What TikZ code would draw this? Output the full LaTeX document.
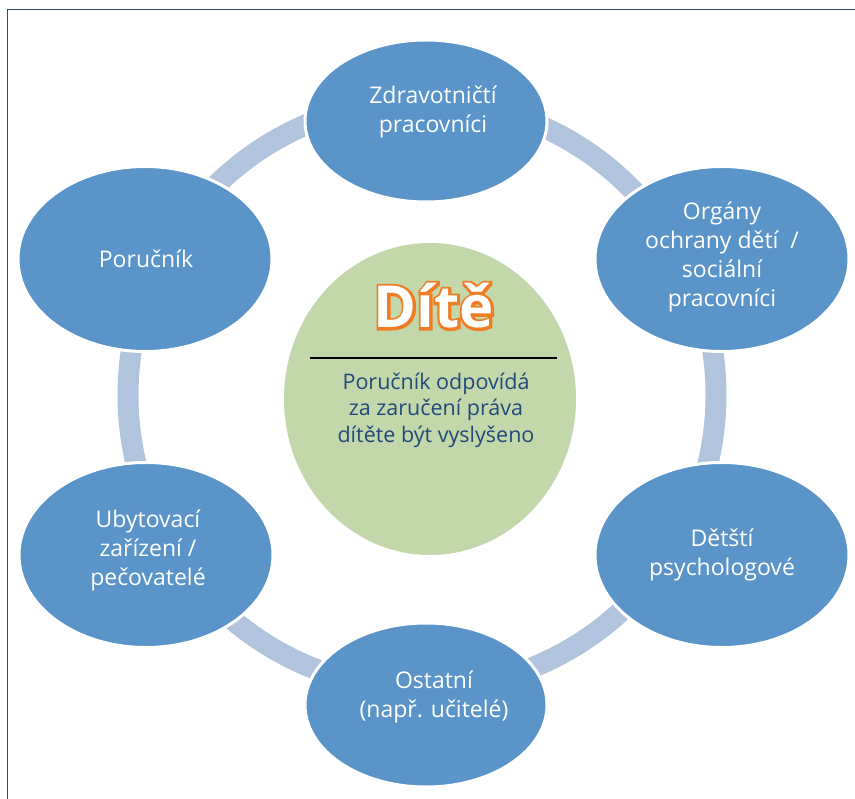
\documentclass[tikz,border=0pt]{standalone}
\usepackage{fontspec}
\setmainfont{Open Sans}
\newfontface\ditefat[FakeBold=9]{Open Sans Bold}
\usetikzlibrary{shapes.geometric}
\definecolor{bubbleblue}{RGB}{90,148,200}
\definecolor{ringblue}{RGB}{176,196,222}
\definecolor{centergreen}{RGB}{195,216,170}
\definecolor{darktext}{RGB}{31,74,122}
\definecolor{framenavy}{RGB}{46,70,120}
\definecolor{diteorange}{RGB}{240,125,36}
\tikzset{
  bubble/.style={ellipse, fill=bubbleblue, draw=white, line width=3pt, inner sep=0pt},
  btext/.style={text=white, align=center, font=\fontsize{23}{29}\selectfont},
  ctext/.style={text=darktext, align=center, font=\fontsize{21.5}{26.5}\selectfont},
  ditestyle/.style={font=\fontsize{58}{60}\bfseries\selectfont, inner sep=0pt},
  ditefatstyle/.style={font=\fontsize{58}{60}\ditefat, inner sep=0pt},
}
\begin{document}
\begin{tikzpicture}[x=1pt,y=-1pt]
\useasboundingbox (0,0) rectangle (855,799);
% frame
\draw[framenavy, line width=1.6pt] (7.5,799) -- (7.5,9.5) -- (855,9.5);
% ring
\draw[ringblue, line width=21pt] (422,395) circle[radius=294];
% centre
\node[ellipse, fill=centergreen, minimum width=292pt, minimum height=312pt, inner sep=0pt] (centre) at (430,399) {};
% bubbles
\node[bubble, minimum width=242pt, minimum height=162pt] (zdrav) at (426,121) {};
\node[bubble, minimum width=254pt, minimum height=185pt] (organy) at (722,259) {};
\node[bubble, minimum width=254pt, minimum height=185pt] (psych) at (722,555) {};
\node[bubble, minimum width=242pt, minimum height=164pt] (ostatni) at (426,705) {};
\node[bubble, minimum width=254pt, minimum height=185pt] (ubyt) at (146,555) {};
\node[bubble, minimum width=254pt, minimum height=185pt] (porucnik) at (145,259) {};
% bubble texts
\node[btext] (tzdrav) at (433,112) {Zdravotničtí\\pracovníci};
\node[btext] (torgany) at (722,257) {Orgány\\ochrany dětí \ /\\sociální\\pracovníci};
\node[btext] (tpsych) at (722,555) {Dětští\\psychologové};
\node[btext] (tostatni) at (434,697) {Ostatní\\(např. učitelé)};
\node[btext] (tubyt) at (148,550) {Ubytovací\\zařízení /\\pečovatelé};
\node[btext] (tporucnik) at (146,259) {Poručník};
% Dite: orange outline behind white letters
\node[ditefatstyle, text=diteorange] (diteoutline) at (434,306) {Dítě};
\node[ditestyle, text=white] (dite) at (434,306) {Dítě};
\coordinate (ruleL) at (310,358);
\coordinate (ruleR) at (557,358);
\draw[black, line width=1.2pt] (ruleL) -- (ruleR);
\node[ctext] (ctxt) at (436,410) {Poručník odpovídá\\za zaručení práva\\dítěte být vyslyšeno};
\end{tikzpicture}
\end{document}
